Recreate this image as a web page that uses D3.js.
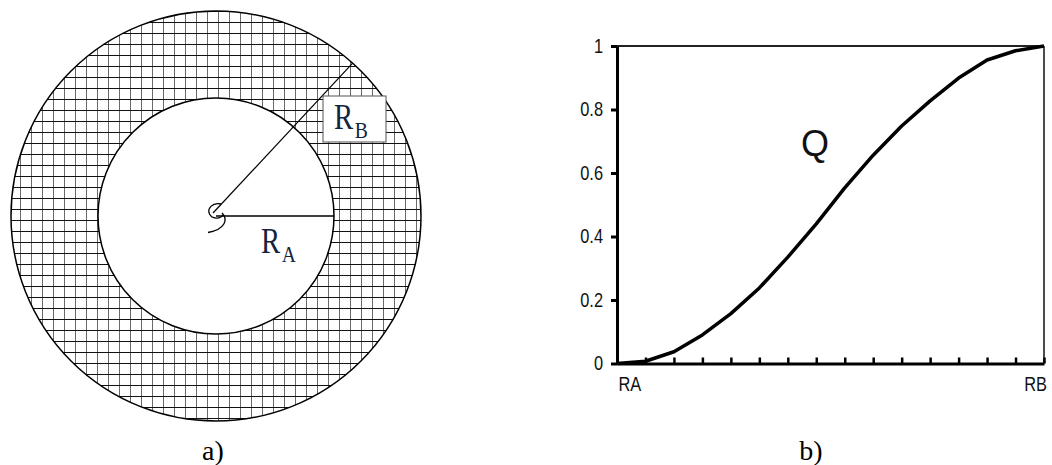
<!DOCTYPE html>
<html>
<head>
<meta charset="utf-8">
<script src="https://cdn.jsdelivr.net/npm/d3@7"></script>
<style>
  body { margin: 0; background: #fff; }
  svg { display: block; }
</style>
</head>
<body>
<div id="fig"></div>
<script>

// ---- data ----
// Q sampled at the 16 tick marks between RA and RB
var steps = d3.range(0, 16);
var qValues = [0, 0.007, 0.037, 0.09, 0.157, 0.238, 0.335, 0.44, 0.553, 0.656, 0.748, 0.827, 0.899, 0.956, 0.985, 1];
var yTicks = [0, 0.2, 0.4, 0.6, 0.8, 1];
var yTickLabels = ["0", "0.2", "0.4", "0.6", "0.8", "1"];
var xEndLabels = ["RA", "RB"];
var curveName = "Q";
var panelLabels = ["a)", "b)"];
var radiusNames = [{main: "R", sub: "A"}, {main: "R", sub: "B"}];

var width = 1052;
var height = 465;
var narrow = 0.82; // the original labels use a condensed face

var svg = d3.select("#fig")
    .append("svg")
    .attr("width", width)
    .attr("height", height);

// ================= a) ring diagram =================
var cx = 216, cy = 216;
var rOuter = 205, rInner = 118;
var rbAngle = 48.2 * Math.PI / 180;

var defs = svg.append("defs");
var gw = 11, gh = 11;
var pat = defs.append("pattern")
    .attr("id", "grid")
    .attr("patternUnits", "userSpaceOnUse")
    .attr("x", 20).attr("y", 187)
    .attr("width", gw).attr("height", gh);
pat.append("rect").attr("width", gw).attr("height", gh).attr("fill", "#fff");
pat.append("line")
    .attr("x1", 0.5).attr("x2", 0.5).attr("y1", 0).attr("y2", gh)
    .attr("stroke", "#6a6a6a").attr("stroke-width", 1);
pat.append("line")
    .attr("x1", 0).attr("x2", gw).attr("y1", 0.5).attr("y2", 0.5)
    .attr("stroke", "#111").attr("stroke-width", 1);

var ring = svg.append("g");

ring.append("circle")
    .attr("cx", cx).attr("cy", cy).attr("r", rOuter)
    .attr("fill", "url(#grid)")
    .attr("stroke", "#000").attr("stroke-width", 1.5);

ring.append("circle")
    .attr("cx", cx).attr("cy", cy).attr("r", rInner)
    .attr("fill", "#fff")
    .attr("stroke", "#000").attr("stroke-width", 1.5);

// radius lines
ring.append("line")
    .attr("x1", cx).attr("y1", cy)
    .attr("x2", cx + rInner).attr("y2", cy)
    .attr("stroke", "#000").attr("stroke-width", 1.5);

ring.append("line")
    .attr("x1", cx - 3).attr("y1", cy - 3)
    .attr("x2", cx + rOuter * Math.cos(rbAngle))
    .attr("y2", cy - rOuter * Math.sin(rbAngle))
    .attr("stroke", "#000").attr("stroke-width", 1.2);

// small angle mark at the centre
ring.append("path")
    .attr("d", "M221,204 C212,202 207,209 209.5,214 C212,219 220,219.5 223,215 " +
               "M222,213 C228,219 226,229 208,232.5")
    .attr("fill", "none")
    .attr("stroke", "#000").attr("stroke-width", 1.3);

// R_B label box
ring.append("rect")
    .attr("x", 323).attr("y", 96)
    .attr("width", 63).attr("height", 46)
    .attr("fill", "#fff")
    .attr("stroke", "#555").attr("stroke-width", 1);

var radLabelPos = [[261, 253], [334, 129]];
radiusNames.forEach(function(r, i){
    var px = radLabelPos[i][0];
    var t = ring.append("text")
        .attr("x", px).attr("y", radLabelPos[i][1])
        .attr("font-family", "'Liberation Serif', 'Times New Roman', serif")
        .attr("font-size", 35)
        .attr("fill", "#13243e")
        .attr("transform", "translate(" + px + ",0) scale(" + narrow + ",1) translate(" + (-px) + ",0)");
    t.append("tspan").text(r.main);
    t.append("tspan").attr("font-size", 24).attr("dy", 9).attr("dx", 2).text(r.sub);
});

// ================= b) Q curve =================
var x = d3.scaleLinear().domain([0, 15]).range([617, 1044]);
var y = d3.scaleLinear().domain([0, 1]).range([363.5, 46]);

var chart = svg.append("g");
var sans = "'Liberation Sans', Arial, sans-serif";

// top and right frame
chart.append("line")
    .attr("x1", x(0)).attr("x2", x(15))
    .attr("y1", y(1)).attr("y2", y(1))
    .attr("stroke", "#222").attr("stroke-width", 2);
chart.append("line")
    .attr("x1", x(15)).attr("x2", x(15))
    .attr("y1", y(1)).attr("y2", y(0))
    .attr("stroke", "#111").attr("stroke-width", 1.5);

var yAxis = chart.append("g")
    .attr("transform", "translate(" + x(0) + ",0)")
    .call(d3.axisLeft(y)
        .tickValues(yTicks)
        .tickFormat(function(d, i){ return yTickLabels[i]; })
        .tickSizeInner(6)
        .tickSizeOuter(0)
        .tickPadding(8));
yAxis.select(".domain").attr("stroke", "#000").attr("stroke-width", 3);
yAxis.selectAll(".tick line").attr("stroke", "#000").attr("stroke-width", 3);
yAxis.selectAll(".tick text")
    .attr("x", -14 / narrow)
    .attr("transform", "scale(" + narrow + ",1)")
    .attr("font-family", sans)
    .attr("font-size", 20)
    .attr("fill", "#111");

var xAxis = chart.append("g")
    .attr("transform", "translate(0," + y(0) + ")")
    .call(d3.axisBottom(x)
        .tickValues(steps)
        .tickFormat("")
        .tickSizeInner(-6)
        .tickSizeOuter(0));
xAxis.select(".domain").attr("stroke", "#000").attr("stroke-width", 3);
xAxis.selectAll(".tick line").attr("stroke", "#000").attr("stroke-width", 2.5);

chart.selectAll(".endLabel")
    .data(xEndLabels)
    .enter()
    .append("text")
    .attr("class", "endLabel")
    .attr("x", function(d, i){ return (i === 0 ? x(0) + 1.5 : x(15) + 3) / narrow; })
    .attr("y", 391)
    .attr("transform", "scale(" + narrow + ",1)")
    .attr("text-anchor", function(d, i){ return i === 0 ? "start" : "end"; })
    .attr("font-family", sans)
    .attr("font-size", 20)
    .attr("fill", "#111")
    .text(function(d){ return d; });

var line = d3.line()
    .x(function(d, i){ return x(steps[i]); })
    .y(function(d){ return y(d); });

chart.append("path")
    .datum(qValues)
    .attr("d", line)
    .attr("fill", "none")
    .attr("stroke", "#000")
    .attr("stroke-width", 3.5)
    .attr("stroke-linejoin", "round");

chart.append("text")
    .attr("x", 815).attr("y", 156)
    .attr("text-anchor", "middle")
    .attr("font-family", sans)
    .attr("font-size", 36)
    .attr("fill", "#111")
    .text(curveName);

// ================= panel captions =================
svg.selectAll(".panel")
    .data(panelLabels)
    .enter()
    .append("text")
    .attr("class", "panel")
    .attr("x", function(d, i){ return i === 0 ? 213 : 811; })
    .attr("y", 460)
    .attr("text-anchor", "middle")
    .attr("font-family", "'Liberation Serif', 'Times New Roman', serif")
    .attr("font-size", 28)
    .attr("fill", "#000")
    .text(function(d){ return d; });

</script>
</body>
</html>
